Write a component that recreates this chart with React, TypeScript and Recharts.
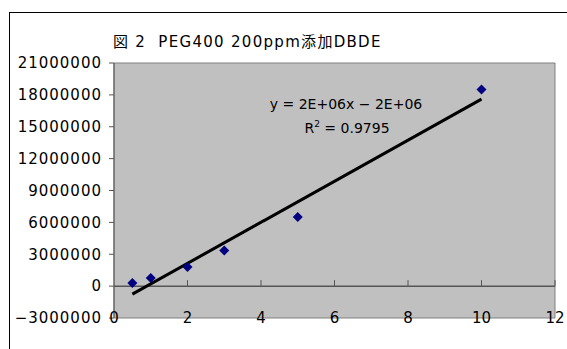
import React from 'react'
import {
  ScatterChart,
  Scatter,
  XAxis,
  YAxis,
  ReferenceArea,
  ReferenceLine,
} from 'recharts'

const concentrations = [0.5, 1, 2, 3, 5, 10]
const peakAreas = [290000, 760000, 1800000, 3360000, 6500000, 18500000]
const xTicks = [0, 2, 4, 6, 8, 10, 12]
const yTicks = [-3000000, 0, 3000000, 6000000, 9000000, 12000000, 15000000, 18000000, 21000000]
const titleText = '図 2  PEG400 200ppm添加DBDE'
const equationText = 'y = 2E+06x − 2E+06'
const r2Value = '0.9795'

const points = concentrations.map((x, i) => ({ x, y: peakAreas[i] }))

// 最小二乗法で近似直線を求める
const n = concentrations.length
const mx = concentrations.reduce((a, b) => a + b, 0) / n
const my = peakAreas.reduce((a, b) => a + b, 0) / n
let sxx = 0
let sxy = 0
concentrations.forEach((x, i) => {
  sxx += (x - mx) * (x - mx)
  sxy += (x - mx) * (peakAreas[i] - my)
})
const slope = sxy / sxx
const intercept = my - slope * mx
const xMin = Math.min(...concentrations)
const xMax = Math.max(...concentrations)
const fitLine = [
  { x: xMin, y: slope * xMin + intercept },
  { x: xMax, y: slope * xMax + intercept },
]
const zeroTicks = xTicks.slice(1).map(x => ({ x, y: 0 }))

const font = "'DejaVu Sans', 'Noto Sans CJK JP', sans-serif"

const Diamond = (props: any) => {
  const { cx, cy } = props
  const r = 5
  return (
    <polygon
      points={`${cx},${cy - r} ${cx + r},${cy} ${cx},${cy + r} ${cx - r},${cy}`}
      fill="#000080"
    />
  )
}

const ZeroTick = (props: any) => {
  const { cx, cy } = props
  return <line x1={cx} x2={cx} y1={cy} y2={cy - 6} stroke="#555" strokeWidth={1} />
}

const XTick = (props: any) => {
  const { x, y, payload } = props
  return (
    <text x={x} y={y} dy="0.35em" textAnchor="middle" fontSize={15} fill="#000" fontFamily={font}>
      {payload.value}
    </text>
  )
}

const fmtY = (v: number) => (v < 0 ? '−' + String(-v) : String(v))

export default function App() {
  return (
    <div
      style={{
        position: 'fixed',
        left: 9,
        top: 12,
        width: 558,
        height: 337,
        boxSizing: 'border-box',
        borderTop: '1px solid #000',
        borderLeft: '1px solid #000',
        background: '#fff',
        fontFamily: font,
      }}
    >
      <div
        style={{
          position: 'absolute',
          left: 103,
          top: 21,
          fontSize: 15,
          lineHeight: '16px',
          letterSpacing: 1.3,
          whiteSpace: 'pre',
        }}
      >
        {titleText}
      </div>
      <ScatterChart width={557} height={336} margin={{ top: 50, right: 12, bottom: 0, left: 0 }}>
        <XAxis
          type="number"
          dataKey="x"
          domain={[0, 12]}
          ticks={xTicks}
          axisLine={false}
          tickLine={false}
          tickSize={0}
          tickMargin={0}
          height={31}
          tick={XTick}
          interval={0}
        />
        <YAxis
          type="number"
          dataKey="y"
          domain={[-3000000, 21000000]}
          ticks={yTicks}
          width={104}
          interval={0}
          axisLine={{ stroke: '#555' }}
          tickLine={{ stroke: '#555' }}
          tickSize={5}
          tickMargin={7}
          tickFormatter={fmtY}
          tick={{ fontSize: 15, fill: '#000', fontFamily: font, letterSpacing: 1 }}
        />
        <ReferenceArea
          x1={0}
          x2={12}
          y1={-3000000}
          y2={21000000}
          fill="#c0c0c0"
          fillOpacity={1}
          stroke="#808080"
          strokeWidth={1}
        />
        <ReferenceLine y={0} stroke="#555" strokeWidth={1.5} />
        <Scatter data={zeroTicks} shape={ZeroTick} isAnimationActive={false} />
        <Scatter
          data={fitLine}
          line={{ stroke: '#000', strokeWidth: 3 }}
          shape={() => <g />}
          isAnimationActive={false}
        />
        <Scatter data={points} shape={Diamond} isAnimationActive={false} />
      </ScatterChart>
      <div
        style={{
          position: 'absolute',
          left: 236,
          width: 200,
          top: 83,
          textAlign: 'center',
          fontSize: 14,
          lineHeight: '16px',
        }}
      >
        {equationText}
      </div>
      <div
        style={{
          position: 'absolute',
          left: 237,
          width: 200,
          top: 107,
          textAlign: 'center',
          fontSize: 14,
          lineHeight: '16px',
        }}
      >
        R<sup style={{ fontSize: 9, verticalAlign: 6, lineHeight: 0 }}>2</sup> = {r2Value}
      </div>
    </div>
  )
}
